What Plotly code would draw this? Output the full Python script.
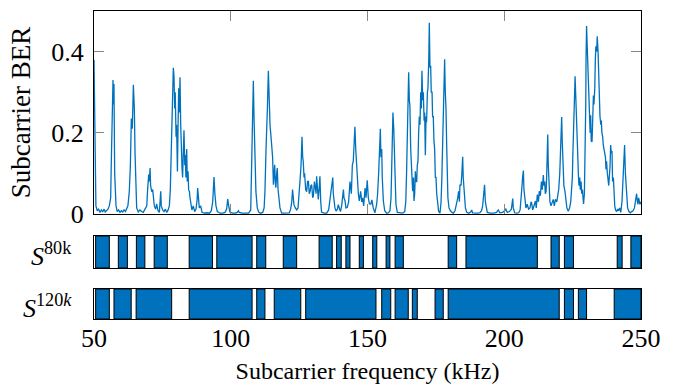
import plotly.graph_objects as go

# Per-subcarrier bit error rate
freq_khz = [
    50.0, 50.25, 50.5, 50.7, 51.2, 51.7, 52.2, 52.7, 53.2, 53.7, 54.1, 54.6, 55.1, 55.6,
    56.1, 56.3, 56.6, 56.8, 56.95, 57.2, 57.3, 57.56, 57.8, 58.05, 58.5, 59.0, 59.5, 60.0,
    60.5, 61.0, 61.5, 61.9, 62.4, 62.9, 63.3, 63.65, 64.0, 64.4, 64.75, 65.0, 65.2, 65.6,
    66.2, 66.8, 67.4, 68.0, 68.65, 69.3, 69.6, 70.0, 70.2, 70.5, 70.7, 71.1, 71.45, 71.7,
    72.06, 72.55, 72.9, 73.4, 73.9, 74.4, 74.6, 75.1, 75.6, 76.1, 76.6, 77.1, 77.55, 77.9,
    78.3, 78.65, 79.0, 79.25, 79.5, 79.7, 80.0, 80.2, 80.5, 80.7, 80.96, 81.2, 81.45, 81.7,
    81.9, 82.2, 82.4, 82.7, 82.9, 83.2, 83.4, 83.6, 83.9, 84.1, 84.4, 84.6, 84.9, 85.1,
    85.35, 85.8, 86.3, 86.8, 87.3, 87.7, 87.9, 88.2, 88.5, 89.0, 89.5, 90.2, 91.2, 92.2,
    92.9, 93.4, 93.88, 94.2, 94.6, 95.1, 96.1, 97.05, 97.9, 98.5, 98.9, 99.25, 99.7, 100.7,
    101.7, 102.4, 102.8, 103.1, 104.1, 105.3, 106.55, 107.3, 107.8, 108.0, 108.26, 108.5,
    108.75, 109.0, 109.2, 109.7, 110.2, 110.9, 111.7, 112.2, 112.5, 112.9, 113.1, 113.4,
    113.75, 114.0, 114.1, 114.35, 114.96, 115.3, 115.6, 115.8, 116.06, 116.3, 116.5, 116.8,
    117.0, 117.3, 117.5, 118.0, 118.6, 119.5, 120.4, 121.4, 121.9, 122.3, 122.6, 123.1,
    123.6, 124.1, 124.6, 124.95, 125.3, 125.7, 126.05, 126.3, 126.5, 126.8, 127.0, 127.4,
    127.75, 128.1, 128.4, 128.7, 129.0, 129.3, 129.6, 129.95, 130.2, 130.6, 130.8, 131.2,
    131.4, 131.8, 132.0, 132.4, 132.6, 132.9, 133.2, 134.1, 135.1, 135.8, 136.2, 136.5,
    136.9, 137.3, 137.5, 137.75, 138.1, 138.5, 139.0, 139.3, 139.7, 140.1, 140.55, 140.9,
    141.2, 141.4, 141.8, 142.1, 142.6, 143.1, 143.6, 144.1, 144.45, 144.8, 145.2, 145.4,
    145.7, 145.9, 146.3, 146.65, 147.0, 147.5, 147.9, 148.2, 148.6, 149.1, 149.45, 149.9,
    150.3, 150.7, 151.2, 151.6, 152.1, 152.7, 153.35, 153.7, 154.1, 154.45, 154.7, 154.9,
    155.2, 155.4, 155.8, 156.3, 157.0, 157.7, 158.2, 158.6, 158.96, 159.3, 159.6, 159.8,
    160.05, 160.4, 160.9, 161.9, 162.85, 163.6, 164.0, 164.3, 164.7, 165.05, 165.3, 165.5,
    165.8, 166.0, 166.3, 166.5, 166.8, 167.0, 167.25, 167.5, 167.7, 168.0, 168.2, 168.46,
    168.7, 168.95, 169.2, 169.45, 169.7, 169.9, 170.2, 170.4, 170.7, 170.9, 171.15, 171.4,
    171.6, 171.9, 172.1, 172.4, 172.6, 172.85, 173.1, 173.3, 173.6, 173.8, 174.05, 174.3,
    174.55, 174.8, 175.05, 175.3, 175.65, 176.0, 176.5, 176.9, 177.2, 177.5, 177.7, 178.0,
    178.2, 178.45, 178.7, 178.95, 179.2, 179.4, 179.8, 180.3, 180.9, 181.4, 182.0, 182.6,
    183.0, 183.3, 183.6, 183.8, 184.2, 184.5, 184.8, 185.0, 185.3, 185.5, 185.8, 186.3,
    187.0, 187.7, 188.1, 188.4, 189.4, 190.4, 191.1, 191.7, 192.1, 192.35, 192.6, 192.8,
    193.1, 193.3, 193.8, 194.8, 196.0, 197.2, 197.8, 198.4, 199.4, 200.15, 200.6, 201.1,
    201.9, 202.6, 202.8, 203.1, 203.3, 203.8, 204.5, 205.3, 205.8, 206.1, 206.5, 206.7,
    207.0, 207.2, 207.5, 207.7, 207.9, 208.4, 208.9, 209.4, 209.8, 210.0, 210.4, 210.9,
    211.4, 211.7, 212.1, 212.5, 212.8, 213.2, 213.6, 213.9, 214.3, 214.5, 214.8, 215.0,
    215.3, 215.5, 215.9, 216.1, 216.4, 216.7, 217.1, 217.5, 217.9, 218.3, 218.7, 219.2,
    219.5, 219.9, 220.3, 220.6, 221.0, 221.2, 221.5, 221.8, 222.2, 222.6, 222.9, 223.4,
    223.9, 224.3, 224.6, 224.9, 225.1, 225.4, 225.6, 225.9, 226.1, 226.4, 226.6, 226.8,
    227.1, 227.3, 227.6, 227.8, 228.1, 228.3, 228.6, 228.8, 229.0, 229.3, 229.5, 229.8,
    229.9, 230.1, 230.4, 230.6, 230.9, 231.1, 231.4, 231.6, 231.8, 232.1, 232.3, 232.6,
    232.8, 233.1, 233.3, 233.5, 233.8, 234.0, 234.3, 234.5, 234.8, 235.0, 235.3, 235.5,
    235.7, 236.0, 236.2, 236.5, 236.7, 237.0, 237.2, 237.4, 237.7, 237.9, 238.2, 238.4,
    238.7, 238.9, 239.15, 239.4, 239.6, 239.9, 240.1, 240.4, 240.7, 241.1, 241.5, 241.8,
    242.2, 242.6, 243.05, 243.3, 243.5, 243.8, 244.0, 244.3, 244.5, 244.8, 245.1, 245.6,
    246.1, 246.6, 247.1, 247.6, 247.9, 248.2, 248.4, 248.7, 248.9, 249.15, 249.4, 249.6,
    250.0,
]
ber = [
    0.38, 0.20, 0.06, 0.02, 0.008, 0.012, 0.004, 0.01, 0.006, 0.012, 0.005, 0.009, 0.012, 0.02,
    0.04, 0.12, 0.24, 0.30, 0.33, 0.27, 0.32, 0.10, 0.04, 0.02, 0.006, 0.01, 0.004, 0.008,
    0.005, 0.01, 0.006, 0.012, 0.02, 0.055, 0.12, 0.235, 0.21, 0.318, 0.26, 0.15, 0.07, 0.015,
    0.005, 0.01, 0.006, 0.004, 0.012, 0.02, 0.06, 0.097, 0.08, 0.113, 0.07, 0.055, 0.06, 0.045,
    0.02, 0.012, 0.025, 0.008, 0.004, 0.056, 0.02, 0.01, 0.006, 0.012, 0.004, 0.01, 0.02, 0.06,
    0.16, 0.28, 0.36, 0.34, 0.26, 0.30, 0.19, 0.22, 0.105, 0.20, 0.31, 0.25, 0.337, 0.22,
    0.155, 0.11, 0.09, 0.15, 0.206, 0.12, 0.145, 0.09, 0.16, 0.08, 0.105, 0.06, 0.055, 0.04,
    0.025, 0.01, 0.02, 0.006, 0.012, 0.035, 0.064, 0.03, 0.015, 0.02, 0.004, 0.002, 0.003, 0.002,
    0.008, 0.03, 0.091, 0.05, 0.02, 0.006, 0.002, 0.002, 0.004, 0.012, 0.037, 0.02, 0.005, 0.002,
    0.002, 0.004, 0.008, 0.004, 0.002, 0.002, 0.002, 0.01, 0.14, 0.25, 0.328, 0.24,
    0.185, 0.10, 0.055, 0.015, 0.005, 0.002, 0.004, 0.015, 0.055, 0.16, 0.24, 0.26,
    0.353, 0.29, 0.31, 0.22, 0.17, 0.14, 0.072, 0.12, 0.121, 0.08, 0.065, 0.10,
    0.113, 0.06, 0.04, 0.015, 0.002, 0.002, 0.002, 0.003, 0.012, 0.03, 0.06, 0.023,
    0.015, 0.01, 0.015, 0.04, 0.08, 0.12, 0.19, 0.14, 0.13, 0.09, 0.10, 0.06,
    0.055, 0.08, 0.08, 0.05, 0.055, 0.07, 0.072, 0.04, 0.044, 0.08, 0.072, 0.05,
    0.093, 0.06, 0.036, 0.07, 0.093, 0.03, 0.005, 0.002, 0.002, 0.01, 0.03, 0.048,
    0.06, 0.09, 0.05, 0.032, 0.015, 0.007, 0.012, 0.023, 0.015, 0.006, 0.02, 0.045,
    0.06, 0.04, 0.032, 0.015, 0.016, 0.03, 0.08, 0.05, 0.12, 0.13, 0.20, 0.215,
    0.16, 0.13, 0.072, 0.05, 0.032, 0.056, 0.03, 0.04, 0.02, 0.064, 0.04, 0.083,
    0.04, 0.025, 0.024, 0.035, 0.015, 0.003, 0.024, 0.05, 0.104, 0.17, 0.21, 0.14,
    0.16, 0.09, 0.032, 0.008, 0.002, 0.003, 0.008, 0.04, 0.14, 0.25, 0.21, 0.145,
    0.08, 0.024, 0.004, 0.002, 0.002, 0.006, 0.03, 0.105, 0.22, 0.349, 0.28, 0.267,
    0.16, 0.12, 0.068, 0.056, 0.09, 0.032, 0.05, 0.105, 0.08, 0.08, 0.12, 0.13,
    0.20, 0.24, 0.22, 0.30, 0.26, 0.353, 0.28, 0.30, 0.23, 0.25, 0.145, 0.24,
    0.226, 0.30, 0.31, 0.38, 0.471, 0.36, 0.365, 0.30, 0.30, 0.24, 0.24, 0.18,
    0.16, 0.09, 0.09, 0.05, 0.03, 0.007, 0.002, 0.03, 0.092, 0.19, 0.26, 0.33,
    0.381, 0.30, 0.26, 0.17, 0.09, 0.04, 0.015, 0.008, 0.004, 0.002, 0.008, 0.023,
    0.04, 0.056, 0.03, 0.072, 0.07, 0.10, 0.141, 0.09, 0.056, 0.03, 0.015, 0.004,
    0.002, 0.005, 0.01, 0.003, 0.002, 0.002, 0.003, 0.008, 0.02, 0.04, 0.05, 0.072,
    0.03, 0.02, 0.004, 0.002, 0.002, 0.004, 0.01, 0.003, 0.004, 0.008, 0.012, 0.004,
    0.006, 0.012, 0.02, 0.038, 0.015, 0.003, 0.002, 0.003, 0.01, 0.03, 0.07, 0.09,
    0.107, 0.06, 0.048, 0.03, 0.015, 0.024, 0.012, 0.015, 0.03, 0.028, 0.01, 0.024,
    0.032, 0.015, 0.048, 0.03, 0.056, 0.045, 0.08, 0.06, 0.096, 0.07, 0.08, 0.05,
    0.056, 0.09, 0.196, 0.12, 0.072, 0.03, 0.02, 0.03, 0.036, 0.02, 0.036, 0.03,
    0.045, 0.06, 0.10, 0.15, 0.239, 0.18, 0.12, 0.07, 0.056, 0.03, 0.015, 0.007,
    0.015, 0.03, 0.056, 0.09, 0.15, 0.22, 0.30, 0.339, 0.30, 0.22, 0.18, 0.14,
    0.10, 0.07, 0.09, 0.06, 0.08, 0.05, 0.06, 0.04, 0.025, 0.05, 0.12, 0.27,
    0.38, 0.463, 0.40, 0.365, 0.29, 0.267, 0.20, 0.243, 0.18, 0.178, 0.22, 0.292,
    0.27, 0.31, 0.38, 0.413, 0.40, 0.438, 0.40, 0.35, 0.30, 0.24, 0.22, 0.23,
    0.20, 0.19, 0.17, 0.16, 0.15, 0.14, 0.11, 0.13, 0.10, 0.09, 0.07, 0.09,
    0.12, 0.17, 0.15, 0.155, 0.08, 0.09, 0.05, 0.02, 0.01, 0.006, 0.012, 0.008,
    0.015, 0.004, 0.03, 0.07, 0.105, 0.15, 0.17, 0.10, 0.08, 0.04, 0.015, 0.006,
    0.003, 0.006, 0.008, 0.015, 0.032, 0.045, 0.05, 0.03, 0.024, 0.04, 0.032, 0.024,
    0.03,
]

# Selected subcarrier bands (kHz) for the two allocations
s80k_start = [50.6, 58.9, 65.5, 72.0, 84.8, 94.9, 109.5, 119.2, 132.3, 138.7, 142.1,
              147.0, 151.9, 156.8, 160.1, 179.5, 186.0, 217.1, 222.0, 241.3, 246.3]
s80k_end = [55.6, 62.2, 68.6, 76.8, 93.3, 107.8, 112.8, 124.1, 137.1, 140.4, 143.6,
            148.5, 153.4, 158.2, 163.1, 182.6, 212.1, 220.1, 225.3, 243.1, 250.0]
s120k_start = [50.6, 57.3, 65.4, 84.8, 109.5, 115.9, 127.4, 155.2, 160.1, 166.4, 174.7,
               179.5, 222.0, 227.1, 240.2]
s120k_end = [55.6, 63.6, 78.4, 107.8, 112.5, 125.6, 153.1, 158.5, 164.9, 168.2, 177.7,
             220.1, 225.3, 230.1, 250.0]

x_ticks = [50, 100, 150, 200, 250]
y_ticks = [0, 0.2, 0.4]

BLUE = "#0072BD"
FONT = "Liberation Serif, Times New Roman, serif"


def band_bars(starts, ends, xa, ya):
    centers = [(a + b) / 2 for a, b in zip(starts, ends)]
    widths = [b - a for a, b in zip(starts, ends)]
    return go.Bar(
        x=centers, y=[1] * len(centers), base=0, width=widths,
        marker=dict(color=BLUE, line=dict(color="black", width=1)),
        xaxis=xa, yaxis=ya, showlegend=False, hoverinfo="skip",
    )


fig = go.Figure()
fig.add_trace(go.Scatter(
    x=freq_khz, y=ber, mode="lines", line=dict(color=BLUE, width=1.3),
    xaxis="x", yaxis="y", showlegend=False,
))
fig.add_trace(band_bars(s80k_start, s80k_end, "x2", "y2"))
fig.add_trace(band_bars(s120k_start, s120k_end, "x3", "y3"))

frame = dict(showline=True, linecolor="black", linewidth=1, mirror=True,
             showgrid=False, zeroline=False, automargin=False)
tickfont = dict(family=FONT, size=26, color="black")

fig.update_layout(
    template="none",
    width=675, height=391,
    margin=dict(l=94, r=34, t=11, b=72),
    paper_bgcolor="white", plot_bgcolor="white",
    font=dict(family=FONT, size=24, color="black"),
    barmode="overlay",
    xaxis=dict(domain=[0, 1], anchor="y", range=[50, 250], tickvals=x_ticks,
               showticklabels=False, ticks="inside", ticklen=10, tickwidth=1,
               tickcolor="#888", **{**frame, "mirror": "ticks"}),
    yaxis=dict(domain=[0.3409, 1], anchor="x", range=[0, 0.5], tickvals=y_ticks,
               ticks="inside", ticklen=10, tickwidth=1, tickcolor="#888",
               tickfont=tickfont, ticklabelstandoff=4,
               title=dict(text="Subcarrier BER", font=dict(family=FONT, size=27),
                          standoff=12),
               **{**frame, "mirror": "ticks"}),
    xaxis2=dict(domain=[0, 1], anchor="y2", range=[50, 250], showticklabels=False,
                ticks="", **frame),
    yaxis2=dict(domain=[0.1656, 0.2695], anchor="x2", range=[0, 1],
                showticklabels=False, ticks="", **frame),
    xaxis3=dict(domain=[0, 1], anchor="y3", range=[50, 250], tickvals=x_ticks,
                ticks="", tickfont=tickfont, ticklabelstandoff=-4,
                title=dict(text="Subcarrier frequency (kHz)",
                           font=dict(family=FONT, size=24), standoff=9),
                **frame),
    yaxis3=dict(domain=[0, 0.0974], anchor="x3", range=[0, 1],
                showticklabels=False, ticks="", **frame),
    annotations=[
        dict(text="<i>S</i><sup>80k</sup>", xref="paper", yref="paper",
             x=0, y=(0.1656 + 0.2695) / 2, xanchor="right", yanchor="middle",
             xshift=-20, yshift=-3, showarrow=False, font=dict(family=FONT, size=26)),
        dict(text="<i>S</i><sup>120<i>k</i></sup>", xref="paper", yref="paper",
             x=0, y=0.0974 / 2, xanchor="right", yanchor="middle",
             xshift=-20, yshift=-2, showarrow=False, font=dict(family=FONT, size=26)),
    ],
)

fig.write_html("out.html")
